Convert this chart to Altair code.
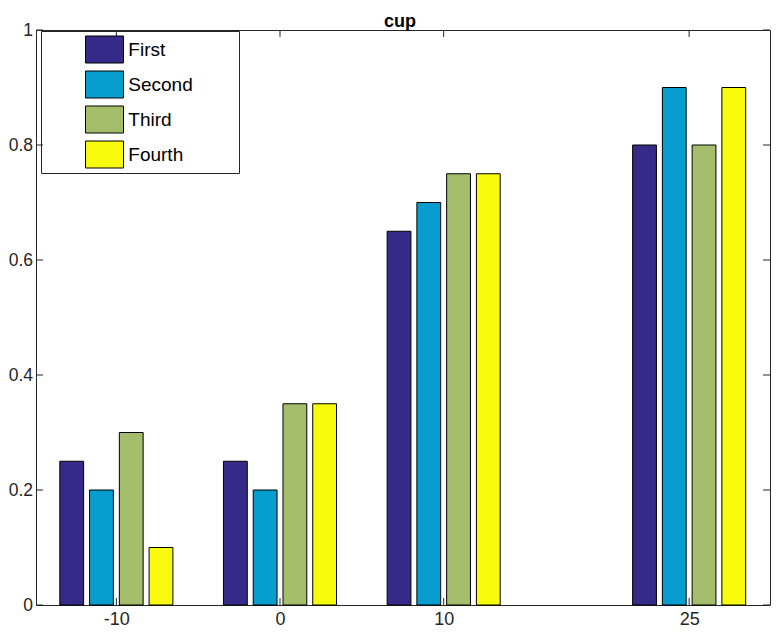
import altair as alt
import pandas as pd

categories = [-10, 0, 10, 25]
series_names = ["First", "Second", "Third", "Fourth"]
first = [0.25, 0.25, 0.65, 0.80]
second = [0.20, 0.20, 0.70, 0.90]
third = [0.30, 0.35, 0.75, 0.80]
fourth = [0.10, 0.35, 0.75, 0.90]
colors = ["#352A87", "#079DCF", "#A5BE6B", "#F9FB0E"]
x_ticks = [-10, 0, 10, 25]
y_ticks = [0, 0.2, 0.4, 0.6, 0.8, 1.0]

rows = []
for j, (name, vals) in enumerate(zip(series_names, [first, second, third, fourth])):
    for c, v in zip(categories, vals):
        rows.append({"cat": c, "series": name, "idx": j, "value": v})
bars_df = pd.DataFrame(rows)

FONT = "Liberation Sans, Arial, Helvetica, sans-serif"
W, H = 734, 575
xscale = alt.Scale(domain=[-14.91, 29.94], nice=False, zero=False)
yscale = alt.Scale(domain=[0, 1], nice=False)

xaxis = alt.Axis(values=x_ticks, ticks=False, domain=False, grid=False,
                 labelPadding=5, labelFontSize=18, labelFont=FONT,
                 labelColor="#262626", labelFlush=False,
                 labelExpr="'' + datum.value")
yaxis = alt.Axis(values=y_ticks, ticks=False, domain=False, grid=False,
                 labelPadding=3.5, labelFontSize=17.5, labelFont=FONT,
                 labelColor="#262626", labelFlush=False,
                 labelExpr="datum.value == 0 ? '0' : datum.value == 1 ? '1' : format(datum.value, '.1f')")

bars = alt.Chart(bars_df).transform_calculate(
    x0="datum.cat + (datum.idx - 1.5) * 1.81818 - 0.72727",
    x1="datum.cat + (datum.idx - 1.5) * 1.81818 + 0.72727",
).mark_rect(stroke="black", strokeWidth=1).encode(
    x=alt.X("x0:Q", scale=xscale, title=None, axis=xaxis),
    x2="x1:Q",
    y=alt.Y("value:Q", scale=yscale, title=None, axis=yaxis),
    y2=alt.datum(0),
    color=alt.Color("series:N", sort=series_names,
                    scale=alt.Scale(domain=series_names, range=colors),
                    legend=alt.Legend(title=None, orient="none", legendX=53, legendY=4,
                                      padding=0, symbolOffset=0,
                                      symbolType="M-1.2667,-0.9H1.2667V0.9H-1.2667Z",
                                      symbolSize=900, symbolStrokeColor="black",
                                      symbolStrokeWidth=1, symbolOpacity=1,
                                      labelFontSize=19, labelFont=FONT, labelColor="black",
                                      labelOffset=8.3, rowPadding=4)),
)

frame = alt.Chart(alt.Data(values=[{"a": 1}])).mark_rect(
    fill="white", stroke="#262626", strokeWidth=1
).encode(x=alt.value(5.5), x2=alt.value(203.5), y=alt.value(1.5), y2=alt.value(143.5))

xt = pd.DataFrame({"t": x_ticks})
yt = pd.DataFrame({"t": y_ticks})
xtick_bottom = alt.Chart(xt).mark_rule(color="#262626", strokeWidth=1).encode(
    x=alt.X("t:Q", scale=xscale, title=None, axis=xaxis), y=alt.value(H), y2=alt.value(H - 7))
xtick_top = alt.Chart(xt).mark_rule(color="#262626", strokeWidth=1).encode(
    x=alt.X("t:Q", scale=xscale, title=None, axis=xaxis), y=alt.value(0), y2=alt.value(7))
ytick_left = alt.Chart(yt).mark_rule(color="#262626", strokeWidth=1).encode(
    y=alt.Y("t:Q", scale=yscale, title=None, axis=yaxis), x=alt.value(0), x2=alt.value(7))
ytick_right = alt.Chart(yt).mark_rule(color="#262626", strokeWidth=1).encode(
    y=alt.Y("t:Q", scale=yscale, title=None, axis=yaxis), x=alt.value(W - 7), x2=alt.value(W))

chart = alt.layer(frame, bars, xtick_bottom, xtick_top, ytick_left, ytick_right).properties(
    width=W, height=H,
    title=alt.TitleParams("cup", fontSize=18, fontWeight="bold", font=FONT, color="black",
                          anchor="middle", baseline="alphabetic", offset=0, dy=24, dx=-3,
                          frame="group"),
    autosize=alt.AutoSizeParams(type="none"),
    padding={"left": 28, "top": 22, "right": 1, "bottom": 23},
    background="white",
).configure_view(stroke="#262626", strokeWidth=1)

chart.save("out.html", embed_options={"renderer": "svg", "actions": False})
